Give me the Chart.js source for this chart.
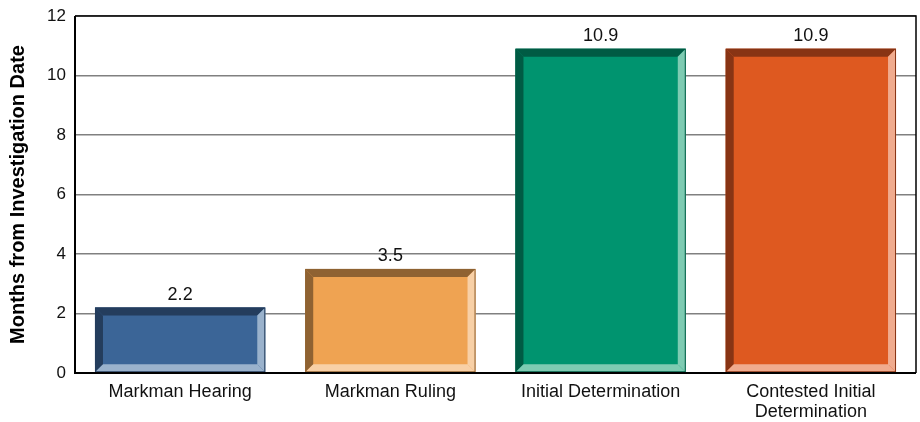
<!DOCTYPE html>
<html>
<head>
<meta charset="utf-8">
<script src="https://cdn.jsdelivr.net/npm/chart.js@4/dist/chart.umd.min.js"></script>
<style>
  html, body { margin: 0; padding: 0; background: #fff; }
  #wrap { width: 920px; height: 422px; }
</style>
</head>
<body>
<div id="wrap"><canvas id="chart"></canvas></div>
<script>
// data
const categories = ["Markman Hearing", "Markman Ruling", "Initial Determination", ["Contested Initial", "Determination"]];
const months = [2.2, 3.5, 10.9, 10.9];
const yTicks = [0, 2, 4, 6, 8, 10, 12];

// colours per bar: face, dark bevel (top/left), light bevel (bottom/right)
const faceColors = ["#3b6597", "#efa352", "#00946f", "#de5920"];
const darkColors = ["#243d5d", "#8f6232", "#005b44", "#883414"];
const lightColors = ["#9ab2cc", "#f8d0a6", "#7ecbb2", "#f0ab8e"];

const FONT = "'Liberation Sans', Arial, sans-serif";

// bevelled bars drawn over the plain bars
const bevelPlugin = {
    id: "bevel",
    afterDatasetsDraw(chart) {
        const ctx = chart.ctx;
        const meta = chart.getDatasetMeta(0);
        const b = 8;
        meta.data.forEach((bar, i) => {
            const l = bar.x - bar.width / 2;
            const r = bar.x + bar.width / 2;
            const t = bar.y;
            const bt = bar.base;
            ctx.save();
            // dark top
            ctx.fillStyle = darkColors[i];
            ctx.beginPath();
            ctx.moveTo(l, t); ctx.lineTo(r, t); ctx.lineTo(r - b, t + b); ctx.lineTo(l + b, t + b);
            ctx.closePath(); ctx.fill();
            // dark left
            ctx.beginPath();
            ctx.moveTo(l, t); ctx.lineTo(l + b, t + b); ctx.lineTo(l + b, bt - b); ctx.lineTo(l, bt);
            ctx.closePath(); ctx.fill();
            // light right
            ctx.fillStyle = lightColors[i];
            ctx.beginPath();
            ctx.moveTo(r, t); ctx.lineTo(r, bt); ctx.lineTo(r - b, bt - b); ctx.lineTo(r - b, t + b);
            ctx.closePath(); ctx.fill();
            // light bottom
            ctx.beginPath();
            ctx.moveTo(l, bt); ctx.lineTo(r, bt); ctx.lineTo(r - b, bt - b); ctx.lineTo(l + b, bt - b);
            ctx.closePath(); ctx.fill();
            ctx.strokeStyle = darkColors[i];
            ctx.lineWidth = 1;
            ctx.strokeRect(l + 0.5, t + 0.5, bar.width - 1, bt - t - 1);
            ctx.restore();

            // value label
            ctx.save();
            ctx.fillStyle = "#111";
            ctx.font = "18px " + FONT;
            ctx.textAlign = "center";
            ctx.textBaseline = "alphabetic";
            ctx.fillText(months[i].toFixed(1), bar.x, t - 8);
            ctx.restore();
        });

        // frame of the plot area
        const a = chart.chartArea;
        ctx.save();
        ctx.strokeStyle = "#000";
        ctx.lineWidth = 1.5;
        ctx.beginPath();
        ctx.moveTo(a.left, a.top); ctx.lineTo(a.right, a.top); ctx.lineTo(a.right, a.bottom);
        ctx.stroke();
        ctx.lineWidth = 2;
        ctx.beginPath();
        ctx.moveTo(a.left, a.top); ctx.lineTo(a.left, a.bottom); ctx.lineTo(a.right, a.bottom);
        ctx.stroke();
        ctx.restore();
    }
};

new Chart(document.getElementById("chart"), {
    type: "bar",
    data: {
        labels: categories,
        datasets: [{
            data: months,
            backgroundColor: faceColors,
            borderWidth: 0,
            categoryPercentage: 1,
            barPercentage: 0.81
        }]
    },
    options: {
        responsive: true,
        maintainAspectRatio: false,
        animation: false,
        layout: { padding: { top: 16, right: 4, left: 0, bottom: 0 } },
        plugins: { legend: { display: false }, tooltip: { enabled: false } },
        scales: {
            x: {
                grid: { display: false },
                border: { display: false },
                ticks: {
                    color: "#111",
                    font: { family: FONT, size: 18, lineHeight: 1.1 },
                    padding: 1,
                    maxRotation: 0
                },
                afterFit: s => { s.height = 49; }
            },
            y: {
                min: 0,
                max: 12,
                afterBuildTicks: s => { s.ticks = yTicks.map(v => ({ value: v })); },
                grid: {
                    color: "#808080",
                    lineWidth: 1.5,
                    drawTicks: false
                },
                border: { display: false },
                ticks: {
                    color: "#111",
                    font: { family: FONT, size: 17 },
                    padding: 9
                },
                title: {
                    display: true,
                    text: "Months from Investigation Date",
                    color: "#000",
                    font: { family: FONT, size: 20, weight: "bold" },
                    padding: { top: 6, bottom: 10 }
                },
                afterFit: s => {
                    s.width = 75;
                    s.paddingTop = 0;
                    s.paddingBottom = 0;
                }
            }
        }
    },
    plugins: [bevelPlugin]
});
</script>
</body>
</html>
